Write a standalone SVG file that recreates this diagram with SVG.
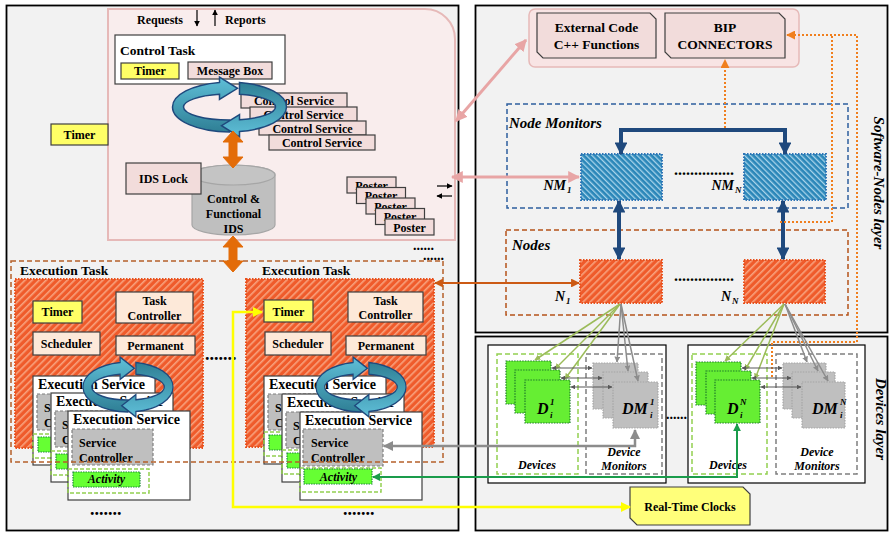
<svg xmlns="http://www.w3.org/2000/svg" width="889" height="535" viewBox="0 0 889 535">
<defs>
<style>
text{font-family:"Liberation Serif","Times New Roman",serif;font-weight:bold;fill:#000;font-size:12px}
.t13{font-size:13.5px}
.t14{font-size:14px}
.t15{font-size:15px}
.it{font-style:italic}
.mid{text-anchor:middle}
.end{text-anchor:end}
.pink{fill:#f2dcdb;stroke:#3f3f3f;stroke-width:1.2}
.yel{fill:#ffff66;stroke:#3f3f3f;stroke-width:1.2}
.peach{fill:#fde9d9;stroke:#3f3f3f;stroke-width:1.2}
.wbox{fill:#fff;stroke:#3f3f3f;stroke-width:1.2}
.panel{fill:#f2f2f2;stroke:#000;stroke-width:1.8}
.hatch{fill:url(#hOr);stroke:#e8501c;stroke-width:2;stroke-dasharray:1.5,1.5}
.nm{fill:url(#hBl);stroke:#2e75b6;stroke-width:2;stroke-dasharray:1.5,1.5}
.ringA{fill:url(#gA);stroke:#1f497d;stroke-width:1.5}
.ringB{fill:url(#gB);stroke:#1f497d;stroke-width:1.5}
.sc{fill:#bfbfbf;stroke:#7f7f7f;stroke-width:1.2;stroke-dasharray:3,2}
.acto{fill:none;stroke:#92d050;stroke-width:1.5;stroke-dasharray:4,2}
.act{fill:#66ff33;stroke:#1e8c3a;stroke-width:1.2;stroke-dasharray:1.5,1}
.dsq{fill:#66ee33;stroke:#1e7c2a;stroke-width:1.2;stroke-dasharray:1.5,1.2}
.dmsq{fill:#bfbfbf;stroke:#a6a6a6;stroke-width:1.2;stroke-dasharray:1.5,1.2}
.dash-g{fill:none;stroke:#92d050;stroke-width:1.5;stroke-dasharray:5,3}
.dash-k{fill:none;stroke:#7f7f7f;stroke-width:1.5;stroke-dasharray:5,3}
.blk{fill:none;stroke:#000;stroke-width:1.2}
.dbl{stroke:#e36c09;fill:#e36c09}
</style>
<pattern id="hOr" width="5" height="5" patternUnits="userSpaceOnUse" patternTransform="rotate(45)">
<rect width="5" height="5" fill="#ef5b2b"/><rect width="1.6" height="5" fill="#f8a27e"/>
</pattern>
<pattern id="hBl" width="4" height="4" patternUnits="userSpaceOnUse" patternTransform="rotate(-45)">
<rect width="4" height="4" fill="#2a86b8"/><rect width="1.3" height="4" fill="#a8d4ea"/>
</pattern>
<linearGradient id="gA" x1="0" y1="0" x2="0" y2="1"><stop offset="0" stop-color="#5fbfd8"/><stop offset="1" stop-color="#2f7f95"/></linearGradient>
<linearGradient id="gB" x1="0" y1="0" x2="0" y2="1"><stop offset="0" stop-color="#2f7f95"/><stop offset="1" stop-color="#5fbfd8"/></linearGradient>
<g id="ring">
<path class="ringA" d="M0,25 A57,25 0 0 1 -57,0 A57,25 0 0 1 -10,-24.6 L-10,-30 L8,-18.7 L-10,-7.5 L-10,-12.7 A46,13 0 0 0 -46,0 A46,13 0 0 0 0,13 Z"/>
<path class="ringB" d="M10,-24.6 A57,25 0 0 1 57,0 A57,25 0 0 1 10,24.6 L10,30 L-8,18.7 L10,7.5 L10,12.7 A46,13 0 0 0 46,0 A46,13 0 0 0 10,-12.7 Z"/>
</g>
<marker id="aK" viewBox="0 0 10 10" refX="9" refY="5" markerWidth="5" markerHeight="5" orient="auto-start-reverse" markerUnits="strokeWidth"><path d="M0,0 L10,5 L0,10 z" fill="#000"/></marker>
<marker id="aY" viewBox="0 0 10 10" refX="9" refY="5" markerWidth="4" markerHeight="4" orient="auto-start-reverse" markerUnits="strokeWidth"><path d="M0,0 L10,5 L0,10 z" fill="#ffff00"/></marker>
<marker id="aG" viewBox="0 0 10 10" refX="9" refY="5" markerWidth="4" markerHeight="4" orient="auto-start-reverse" markerUnits="strokeWidth"><path d="M0,0 L10,5 L0,10 z" fill="#8c8c8c"/></marker>
<marker id="aGr" viewBox="0 0 10 10" refX="9" refY="5" markerWidth="4" markerHeight="4" orient="auto-start-reverse" markerUnits="strokeWidth"><path d="M0,0 L10,5 L0,10 z" fill="#1a9c4b"/></marker>
<marker id="aP" viewBox="0 0 10 10" refX="9" refY="5" markerWidth="4" markerHeight="4" orient="auto-start-reverse" markerUnits="strokeWidth"><path d="M0,0 L10,5 L0,10 z" fill="#e8a5a5"/></marker>
<marker id="aO" viewBox="0 0 10 10" refX="9" refY="5" markerWidth="4" markerHeight="4" orient="auto-start-reverse" markerUnits="strokeWidth"><path d="M0,0 L10,5 L0,10 z" fill="#cc5a14"/></marker>
<marker id="aB" viewBox="0 0 10 10" refX="9" refY="5" markerWidth="3.2" markerHeight="3.2" orient="auto-start-reverse" markerUnits="strokeWidth"><path d="M0,0 L10,5 L0,10 z" fill="#1f497d"/></marker>
<marker id="aOd" viewBox="0 0 10 10" refX="9" refY="5" markerWidth="4.5" markerHeight="4.5" orient="auto-start-reverse" markerUnits="strokeWidth"><path d="M0,0 L10,5 L0,10 z" fill="#f07f1e"/></marker>
<marker id="aLg" viewBox="0 0 10 10" refX="9" refY="5" markerWidth="4" markerHeight="4" orient="auto-start-reverse" markerUnits="strokeWidth"><path d="M0,0 L10,5 L0,10 z" fill="#9bbb59"/></marker>
<marker id="aDg" viewBox="0 0 10 10" refX="9" refY="5" markerWidth="4" markerHeight="4" orient="auto-start-reverse" markerUnits="strokeWidth"><path d="M0,0 L10,5 L0,10 z" fill="#595959"/></marker>
</defs>

<!-- panels -->
<g id="panels">
<rect class="panel" x="6.5" y="5.5" width="452" height="525"/>
<rect class="panel" x="475.5" y="5.5" width="412" height="327"/>
<rect class="panel" x="475.5" y="336.5" width="412" height="194"/>
</g>

<!-- control area -->
<g id="control-area">
<path d="M108,9 H425 A30,30 0 0 1 455,39 V240 H108 Z" fill="#f9eded" stroke="#e6b9b8" stroke-width="2"/>
<text x="137" y="24">Requests</text>
<text x="225" y="24">Reports</text>
<line x1="197" y1="10" x2="197" y2="26" stroke="#000" stroke-width="1.2" marker-end="url(#aK)"/>
<line x1="215" y1="26" x2="215" y2="10" stroke="#000" stroke-width="1.2" marker-end="url(#aK)"/>
</g>

<g id="control-task">
<rect class="wbox" x="115" y="35" width="170" height="49"/>
<text class="t13" x="120" y="55">Control Task</text>
<rect class="yel" x="121" y="63" width="58" height="16"/>
<text class="mid" x="150" y="75">Timer</text>
<rect class="pink" x="188" y="62" width="84" height="17"/>
<text class="mid" x="230" y="75">Message Box</text>
</g>

<g id="timer-left">
<rect class="yel" x="51" y="124" width="57" height="21"/>
<text class="mid" x="79.5" y="139">Timer</text>
</g>

<g id="control-services">
<rect class="pink" x="241" y="93" width="106" height="15"/><text class="mid" x="294" y="105">Control Service</text>
<rect class="pink" x="250" y="107" width="107" height="14"/><text class="mid" x="303.5" y="119">Control Service</text>
<rect class="pink" x="259" y="121" width="107" height="14"/><text class="mid" x="312.5" y="133">Control Service</text>
<rect class="pink" x="269" y="135" width="106" height="15"/><text class="mid" x="322" y="147">Control Service</text>
</g>

<g id="ids">
<path d="M192,175 V225 A41.5,10 0 0 0 275,225 V175 A41.5,10 0 0 0 192,175 Z" fill="#bfbfbf" stroke="#a6a6a6" stroke-width="1.2"/>
<ellipse cx="233.5" cy="175" rx="41.5" ry="10" fill="#c4c4c4" stroke="#a6a6a6" stroke-width="1.2"/>
<text class="mid" x="233.5" y="203">Control &amp;</text>
<text class="mid" x="233.5" y="218">Functional</text>
<text class="mid" x="233.5" y="233">IDS</text>
</g>

<g id="ids-lock">
<rect class="pink" x="126" y="163" width="75" height="31"/>
<text class="mid" x="163.5" y="183">IDS Lock</text>
</g>

<g id="control-ring">
<use href="#ring" transform="translate(229.5,107)"/>
</g>

<g id="posters">
<rect class="pink" x="347" y="177" width="49" height="16"/><text class="mid" x="371.5" y="189.5">Poster</text>
<rect class="pink" x="356.5" y="187.5" width="49" height="16"/><text class="mid" x="381" y="200">Poster</text>
<rect class="pink" x="366" y="198" width="49" height="16"/><text class="mid" x="390.5" y="210.5">Poster</text>
<rect class="pink" x="375.5" y="208.5" width="49" height="16"/><text class="mid" x="400" y="221">Poster</text>
<rect class="pink" x="385" y="219" width="49" height="16"/><text class="mid" x="409.5" y="231.5">Poster</text>
</g>

<g id="poster-io">
<line x1="437" y1="186" x2="452" y2="186" stroke="#000" stroke-width="1.2" marker-end="url(#aK)"/>
<line x1="452" y1="196" x2="437" y2="196" stroke="#000" stroke-width="1.2" marker-end="url(#aK)"/>
</g>
<text class="t14" x="413" y="250">......</text>
<text class="t14" x="423" y="260">......</text>

<!-- execution tasks -->
<g id="exec-task-1">
<text class="t13" x="20" y="275">Execution Task</text>
<rect class="hatch" x="15" y="279" width="188" height="169"/>
<rect class="yel" x="33" y="301" width="49" height="22"/><text class="mid" x="57.5" y="316">Timer</text>
<rect class="peach" x="116" y="292" width="77" height="31"/><text class="mid" x="154.5" y="305">Task</text><text class="mid" x="154.5" y="320">Controller</text>
<rect class="peach" x="33" y="332" width="67" height="23"/><text class="mid" x="66.5" y="348">Scheduler</text>
<rect class="peach" x="116" y="336" width="79" height="19"/><text class="mid" x="155.5" y="350">Permanent</text>
</g>
<g id="exec-task-2">
<text class="t13" x="262" y="275">Execution Task</text>
<rect class="hatch" x="246" y="279" width="188" height="168"/>
<rect class="yel" x="264" y="300" width="49" height="22"/><text class="mid" x="288.5" y="316">Timer</text>
<rect class="peach" x="348" y="292" width="75" height="30"/><text class="mid" x="385.5" y="305">Task</text><text class="mid" x="385.5" y="319">Controller</text>
<rect class="peach" x="265" y="332" width="66" height="23"/><text class="mid" x="298" y="348">Scheduler</text>
<rect class="peach" x="346" y="336" width="80" height="19"/><text class="mid" x="386" y="350">Permanent</text>
</g>
<text x="205" y="360" style="font-size:18px">.......</text>

<!-- execution services left -->
<g id="exec-service-1a" transform="translate(33,376)">
<rect class="wbox" width="122" height="89"/>
<text class="t14" x="5" y="13">Execution Service</text>
<rect class="sc" x="4" y="18" width="81" height="36"/>
<text x="11" y="36">Service</text><text x="11" y="51">Controller</text>
<rect class="acto" x="0" y="58" width="81" height="24"/>
<rect class="act" x="5" y="61" width="67" height="15"/>
<text class="it mid" x="38.5" y="72">Activity</text>
</g>
<g id="exec-service-1b" transform="translate(51,393)">
<rect class="wbox" width="122" height="89"/>
<text class="t14" x="5" y="13">Execution Service</text>
<rect class="sc" x="4" y="18" width="81" height="36"/>
<text x="11" y="36">Service</text><text x="11" y="51">Controller</text>
<rect class="acto" x="0" y="58" width="81" height="24"/>
<rect class="act" x="5" y="61" width="67" height="15"/>
<text class="it mid" x="38.5" y="72">Activity</text>
</g>
<g id="exec-service-1c" transform="translate(68,411)">
<rect class="wbox" width="122" height="89"/>
<text class="t14" x="5" y="13">Execution Service</text>
<rect class="sc" x="4" y="18" width="81" height="36"/>
<text x="11" y="36">Service</text><text x="11" y="51">Controller</text>
<rect class="acto" x="0" y="58" width="81" height="24"/>
<rect class="act" x="5" y="61" width="67" height="15"/>
<text class="it mid" x="38.5" y="72">Activity</text>
</g>
<!-- execution services right -->
<g id="exec-service-2a" transform="translate(264,376)">
<rect class="wbox" width="122" height="88"/>
<text class="t14" x="5" y="13">Execution Service</text>
<rect class="sc" x="4" y="18" width="81" height="36"/>
<text x="11" y="36">Service</text><text x="11" y="51">Controller</text>
<rect class="acto" x="0" y="56" width="81" height="24"/>
<rect class="act" x="5" y="59" width="67" height="15"/>
<text class="it mid" x="38.5" y="70">Activity</text>
</g>
<g id="exec-service-2b" transform="translate(282,394)">
<rect class="wbox" width="122" height="88"/>
<text class="t14" x="5" y="13">Execution Service</text>
<rect class="sc" x="4" y="18" width="81" height="36"/>
<text x="11" y="36">Service</text><text x="11" y="51">Controller</text>
<rect class="acto" x="0" y="56" width="81" height="24"/>
<rect class="act" x="5" y="59" width="67" height="15"/>
<text class="it mid" x="38.5" y="70">Activity</text>
</g>
<g id="exec-service-2c" transform="translate(300,412)">
<rect class="wbox" width="122" height="88"/>
<text class="t14" x="5" y="13">Execution Service</text>
<rect class="sc" x="3" y="17" width="80" height="37"/>
<text x="11" y="35">Service</text><text x="11" y="50">Controller</text>
<rect class="acto" x="0" y="56" width="81" height="24"/>
<rect class="act" x="4" y="57" width="68" height="15"/>
<text class="it mid" x="38.5" y="69">Activity</text>
</g>

<g id="exec-rings">
<use href="#ring" transform="translate(128,387) scale(0.79,1)"/>
<use href="#ring" transform="translate(361,387) scale(0.79,1)"/>
</g>

<g id="exec-task-border">
<rect x="11" y="261" width="432" height="201" fill="none" stroke="#b5602a" stroke-width="1.5" stroke-dasharray="5,3"/>
</g>
<text x="90" y="515" style="font-size:18px">.......</text>
<text x="343" y="515" style="font-size:18px">.......</text>

<!-- block double arrows -->
<g id="block-arrows">
<polygon class="dbl" points="233,131 243,142 237,142 237,157 243,157 233,168 223,157 229,157 229,142 223,142"/>
<polygon class="dbl" points="233,236 243,247 237,247 237,261 243,261 233,272 223,261 229,261 229,247 223,247"/>
</g>

<!-- right top -->
<g id="ext-container">
<rect x="529" y="9" width="270" height="58" rx="6" fill="#f8e4e4" stroke="#e6b9b8" stroke-width="1.5"/>
</g>
<g id="external-code">
<path class="pink" d="M537,13 H650 L656,19 V58 H543 L537,52 Z"/>
<text class="t13 mid" x="596.5" y="32">External Code</text>
<text class="t13 mid" x="596.5" y="49">C++ Functions</text>
</g>
<g id="bip-connectors">
<path class="pink" d="M665,13 H779 L785,19 V58 H671 L665,52 Z"/>
<text class="t13 mid" x="725" y="32">BIP</text>
<text class="t13 mid" x="725" y="49">CONNECTORS</text>
</g>

<g id="node-monitors">
<rect x="507" y="104" width="341" height="104" fill="none" stroke="#2e5f9e" stroke-width="1.5" stroke-dasharray="5,3"/>
<text class="t15 it" x="509" y="128">Node Monitors</text>
</g>
<g id="nm1">
<rect class="nm" x="581" y="154" width="81" height="46"/>
<text class="t14 it end" x="566" y="190">NM</text><text class="it" x="567" y="193" style="font-size:9px">1</text>
</g>
<g id="nmN">
<rect class="nm" x="744" y="154" width="82" height="46"/>
<text class="t14 it end" x="734" y="190">NM</text><text class="it" x="735" y="193" style="font-size:9px">N</text>
</g>
<text class="t15" x="674" y="175" style="font-size:16px">...............</text>

<g id="nodes">
<rect x="506" y="230" width="342" height="85" fill="none" stroke="#b5531a" stroke-width="1.5" stroke-dasharray="5,3"/>
<text class="t15 it" x="512" y="250">Nodes</text>
</g>
<g id="n1">
<rect class="hatch" x="580" y="260" width="82" height="43"/>
<text class="t14 it end" x="565" y="301">N</text><text class="it" x="566" y="304" style="font-size:9px">1</text>
</g>
<g id="nN">
<rect class="hatch" x="744" y="260" width="81" height="43"/>
<text class="t14 it end" x="731" y="301">N</text><text class="it" x="732" y="304" style="font-size:9px">N</text>
</g>
<text x="674" y="281" style="font-size:16px">...............</text>

<text class="t15 it mid" transform="translate(874,183) rotate(90)" x="0" y="0">Software-Nodes layer</text>

<!-- devices layer -->
<g id="device-group-1">
<rect x="488" y="345" width="178" height="138" fill="#fff" stroke="#000" stroke-width="1.2"/>
<rect class="dash-g" x="497" y="354" width="81" height="120"/>
<rect class="dash-k" x="586" y="354" width="76" height="120"/>
<rect class="dsq" x="506" y="361" width="45" height="43"/>
<rect class="dsq" x="515" y="370" width="45" height="43"/>
<rect class="dsq" x="525" y="380" width="45" height="43"/>
<rect class="dmsq" x="593" y="363" width="45" height="46"/>
<rect class="dmsq" x="603" y="372" width="45" height="46"/>
<rect class="dmsq" x="613" y="382" width="45" height="46"/>
<text class="it" x="537" y="414" style="font-size:16px">D</text>
<text class="it" x="550" y="418" style="font-size:9px">i</text>
<text class="it" x="550" y="405" style="font-size:9px">1</text>
<text class="it" x="622" y="414" style="font-size:16px">DM</text>
<text class="it" x="650" y="418" style="font-size:9px">i</text>
<text class="it" x="650" y="405" style="font-size:9px">1</text>
<text class="it mid" x="537" y="469">Devices</text>
<text class="it mid" x="624" y="456">Device</text>
<text class="it mid" x="624" y="470">Monitors</text>
</g>
<g id="device-group-2">
<rect x="688" y="345" width="177" height="138" fill="#fff" stroke="#000" stroke-width="1.2"/>
<rect class="dash-g" x="692" y="354" width="75" height="120"/>
<rect class="dash-k" x="776" y="354" width="81" height="120"/>
<rect class="dsq" x="696" y="362" width="45" height="43"/>
<rect class="dsq" x="706" y="371" width="45" height="43"/>
<rect class="dsq" x="715" y="380" width="45" height="43"/>
<rect class="dmsq" x="783" y="363" width="43" height="46"/>
<rect class="dmsq" x="792" y="372" width="43" height="46"/>
<rect class="dmsq" x="802" y="382" width="43" height="46"/>
<text class="it" x="727" y="414" style="font-size:16px">D</text>
<text class="it" x="740" y="418" style="font-size:9px">i</text>
<text class="it" x="740" y="405" style="font-size:9px">N</text>
<text class="it" x="812" y="414" style="font-size:16px">DM</text>
<text class="it" x="840" y="418" style="font-size:9px">i</text>
<text class="it" x="840" y="405" style="font-size:9px">N</text>
<text class="it mid" x="728" y="469">Devices</text>
<text class="it mid" x="817" y="456">Device</text>
<text class="it mid" x="817" y="470">Monitors</text>
</g>
<text x="666" y="419" style="font-size:14px">......</text>

<g id="real-time-clocks">
<path d="M630,487 H743 L750,494 V525 H637 L630,518 Z" fill="#ffff7a" stroke="#3f3f3f" stroke-width="1.2"/>
<text class="mid" x="690" y="511">Real-Time Clocks</text>
</g>

<text class="t15 it mid" transform="translate(876,419) rotate(90)" x="0" y="0">Devices layer</text>

<!-- connectors -->
<g id="connectors" fill="none">
<line x1="456" y1="121" x2="526" y2="40" stroke="#e8a5a5" stroke-width="3" marker-start="url(#aP)" marker-end="url(#aP)"/>
<line x1="452" y1="177" x2="579" y2="177" stroke="#e8a5a5" stroke-width="3" marker-start="url(#aP)" marker-end="url(#aP)"/>
<line x1="435" y1="283" x2="579" y2="283" stroke="#cc5a14" stroke-width="2.2" marker-start="url(#aO)" marker-end="url(#aO)"/>
<path d="M630,507 H233 V312 H262" stroke="#ffff00" stroke-width="2.5" marker-start="url(#aY)" marker-end="url(#aY)"/>
<path d="M384,446 H635 V430" stroke="#8c8c8c" stroke-width="2.5" marker-start="url(#aG)" marker-end="url(#aG)"/>
<path d="M373,477 H737 V424" stroke="#1a9c4b" stroke-width="2" marker-start="url(#aGr)" marker-end="url(#aGr)"/>
<path d="M621,154 V130 H785 V154" stroke="#1f497d" stroke-width="4" marker-start="url(#aB)" marker-end="url(#aB)"/>
<line x1="619" y1="201" x2="619" y2="259" stroke="#1f497d" stroke-width="4" marker-start="url(#aB)" marker-end="url(#aB)"/>
<line x1="783" y1="201" x2="783" y2="259" stroke="#1f497d" stroke-width="4" marker-start="url(#aB)" marker-end="url(#aB)"/>
<line x1="725" y1="128" x2="725" y2="60" stroke="#f07f1e" stroke-width="2" stroke-dasharray="2,2" marker-end="url(#aOd)"/>
<path d="M772,377 V342 H857 V35 H787" stroke="#f07f1e" stroke-width="2" stroke-dasharray="2,2" marker-end="url(#aOd)"/>
<path d="M780,222 H832 V35" stroke="#f07f1e" stroke-width="2" stroke-dasharray="2,2"/>
<line x1="620" y1="304" x2="535" y2="360" stroke="#9bbb59" stroke-width="1.5" marker-end="url(#aLg)"/>
<line x1="620" y1="304" x2="555" y2="369" stroke="#9bbb59" stroke-width="1.5" marker-end="url(#aLg)"/>
<line x1="620" y1="304" x2="565" y2="379" stroke="#9bbb59" stroke-width="1.5" marker-end="url(#aLg)"/>
<line x1="621" y1="304" x2="617" y2="362" stroke="#8c8c8c" stroke-width="1.5" marker-end="url(#aG)"/>
<line x1="621" y1="304" x2="628" y2="371" stroke="#8c8c8c" stroke-width="1.5" marker-end="url(#aG)"/>
<line x1="621" y1="304" x2="638" y2="381" stroke="#8c8c8c" stroke-width="1.5" marker-end="url(#aG)"/>
<line x1="784" y1="304" x2="725" y2="361" stroke="#9bbb59" stroke-width="1.5" marker-end="url(#aLg)"/>
<line x1="784" y1="304" x2="745" y2="370" stroke="#9bbb59" stroke-width="1.5" marker-end="url(#aLg)"/>
<line x1="784" y1="304" x2="755" y2="379" stroke="#9bbb59" stroke-width="1.5" marker-end="url(#aLg)"/>
<line x1="785" y1="304" x2="807" y2="362" stroke="#8c8c8c" stroke-width="1.5" marker-end="url(#aG)"/>
<line x1="785" y1="304" x2="818" y2="371" stroke="#8c8c8c" stroke-width="1.5" marker-end="url(#aG)"/>
<line x1="785" y1="304" x2="828" y2="381" stroke="#8c8c8c" stroke-width="1.5" marker-end="url(#aG)"/>
<line x1="552" y1="368" x2="592" y2="368" stroke="#595959" stroke-width="1.2" marker-start="url(#aDg)" marker-end="url(#aDg)"/>
<line x1="561" y1="378" x2="602" y2="378" stroke="#595959" stroke-width="1.2" marker-start="url(#aDg)" marker-end="url(#aDg)"/>
<line x1="571" y1="387" x2="612" y2="387" stroke="#595959" stroke-width="1.2" marker-start="url(#aDg)" marker-end="url(#aDg)"/>
<line x1="742" y1="368" x2="782" y2="368" stroke="#595959" stroke-width="1.2" marker-start="url(#aDg)" marker-end="url(#aDg)"/>
<line x1="752" y1="378" x2="791" y2="378" stroke="#595959" stroke-width="1.2" marker-start="url(#aDg)" marker-end="url(#aDg)"/>
<line x1="761" y1="387" x2="801" y2="387" stroke="#595959" stroke-width="1.2" marker-start="url(#aDg)" marker-end="url(#aDg)"/>
</g>
</svg>
